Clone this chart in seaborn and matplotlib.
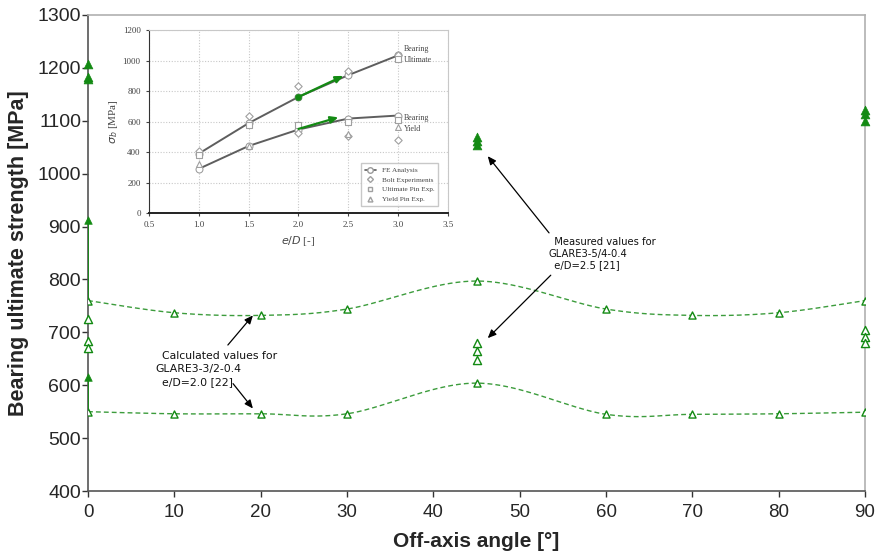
#!/usr/bin/env python3
"""Bearing ultimate strength vs off-axis angle, with e/D inset."""

import numpy as np
import pandas as pd
import matplotlib
matplotlib.use("Agg")
import matplotlib.pyplot as plt
import seaborn as sns
from matplotlib.lines import Line2D

# calculated values, GLARE3-3/2-0.4, e/D=2.0
angles_calc = [0, 10, 20, 30, 45, 60, 70, 80, 90]
calc_ultimate = [760, 737, 732, 744, 797, 744, 732, 737, 760]
calc_yield = [550, 546, 546, 546, 604, 545, 545, 546, 549]

# measured values, GLARE3-5/4-0.4, e/D=2.5
meas_ult_angle = [0, 0, 0, 45, 45, 45, 90, 90, 90]
meas_ult = [1207, 1183, 1178, 1069, 1062, 1054, 1120, 1113, 1100]
meas_yld_angle = [0, 0, 0, 45, 45, 45, 90, 90, 90]
meas_yld = [725, 683, 670, 680, 664, 647, 705, 692, 680]

# e/D correction at 0 deg (calculated -> raised)
shift_angle = [0, 0]
shift_from = [760, 550]
shift_to = [913, 615]

x_ticks = list(range(0, 91, 10))
y_ticks = list(range(400, 1301, 100))

# inset: bearing strength vs e/D
ed = [1.0, 1.5, 2.0, 2.5, 3.0]
fe_ult = [390, 590, 762, 905, 1035]
fe_yld = [290, 440, 548, 620, 640]
bolt_ed = [1.0, 1.5, 2.0, 2.5, 3.0, 2.0, 2.5, 3.0]
bolt = [407, 640, 835, 935, 1040, 522, 505, 482]
upin_ed = [1.0, 1.5, 2.0, 2.5, 3.0, 3.0]
upin = [378, 578, 578, 600, 1008, 610]
ypin_ed = [1.0, 1.5, 2.5, 3.0]
ypin = [322, 440, 520, 565]
arrow_ed = [(2.0, 2.45), (2.0, 2.4)]
arrow_sb = [(762, 900), (552, 628)]

GREEN = "#138a13"
DASH = "#3c9c3c"


def smooth(x, y, n=40):
    """Catmull-Rom curve through the points (like Excel smoothed lines)."""
    pts = np.column_stack([x, y]).astype(float)
    p = np.vstack([pts[0], pts, pts[-1]])
    t = np.linspace(0, 1, n)[:, None]
    out = []
    for i in range(1, len(p) - 2):
        p0, p1, p2, p3 = p[i - 1], p[i], p[i + 1], p[i + 2]
        seg = 0.5 * (2 * p1 + (-p0 + p2) * t
                     + (2 * p0 - 5 * p1 + 4 * p2 - p3) * t ** 2
                     + (-p0 + 3 * p1 - 3 * p2 + p3) * t ** 3)
        out.append(seg)
    return np.vstack(out)


sns.set_style("white")
plt.rcParams["font.family"] = ["Liberation Sans", "DejaVu Sans"]

fig = plt.figure(figsize=(8.8, 5.54), dpi=100)
ax = fig.add_axes([0.1, 0.1137, 0.883, 0.8593])

# smoothed dashed calculated curves
for vals in (calc_ultimate, calc_yield):
    curve = smooth(angles_calc, vals)
    df = pd.DataFrame({"angle": curve[:, 0], "sb": curve[:, 1]})
    sns.lineplot(data=df, x="angle", y="sb", ax=ax, sort=False, estimator=None,
                 color=DASH, lw=1.0, linestyle=(0, (3.5, 2.2)), zorder=2)

calc_df = pd.DataFrame({"angle": angles_calc * 2, "sb": calc_ultimate + calc_yield})
sns.scatterplot(data=calc_df, x="angle", y="sb", ax=ax, marker="^", s=26,
                facecolor="white", edgecolor=GREEN, linewidth=1.0, zorder=4)

# raised values at 0 deg
ax.vlines(shift_angle, shift_from, shift_to, color=GREEN, lw=1.3, zorder=3)
sns.scatterplot(x=shift_angle, y=shift_to, ax=ax, marker="^", s=30,
                color=GREEN, edgecolor=GREEN, zorder=4, clip_on=False)

sns.scatterplot(x=meas_yld_angle, y=meas_yld, ax=ax, marker="^", s=34,
                facecolor="white", edgecolor=GREEN, linewidth=1.0, zorder=4, clip_on=False)
sns.scatterplot(x=meas_ult_angle, y=meas_ult, ax=ax, marker="^", s=40,
                color=GREEN, edgecolor=GREEN, zorder=4, clip_on=False)

ax.set_xlim(0, 90)
ax.set_ylim(400, 1300)
ax.set_xticks(x_ticks)
ax.set_yticks(y_ticks)
ax.tick_params(axis="both", direction="out", length=4, width=1, color="#333333",
               bottom=True, left=True)
ax.tick_params(axis="x", labelsize=13.5, pad=5)
ax.tick_params(axis="y", labelsize=14, pad=1)
for side in ("left", "bottom"):
    ax.spines[side].set_color("#555555")
    ax.spines[side].set_linewidth(1.2)
for side in ("right", "top"):
    ax.spines[side].set_color("#b0b0b0")
    ax.spines[side].set_linewidth(1.2)
ax.set_xlabel("Off-axis angle [°]", fontsize=15, fontweight="bold", labelpad=8)
ax.set_ylabel("Bearing ultimate strength [MPa]", fontsize=15.5, fontweight="bold", labelpad=6)

arrow = dict(arrowstyle="-|>,head_length=0.5,head_width=0.22", color="black", lw=0.9,
             shrinkA=0, shrinkB=0)
ax.text(7.8, 665, "  Calculated values for\nGLARE3-3/2-0.4\n  e/D=2.0 [22]",
        fontsize=7.8, va="top", ha="left", linespacing=1.38,
        family=["DejaVu Sans"], color="#111111")
ax.annotate("", xy=(19.1, 732), xytext=(16.2, 676), arrowprops=arrow)
ax.annotate("", xy=(19.1, 556), xytext=(16.8, 603), arrowprops=arrow)

ax.text(53.3, 880, "  Measured values for\nGLARE3-5/4-0.4\n  e/D=2.5 [21]",
        fontsize=7.2, va="top", ha="left", linespacing=1.2,
        family=["DejaVu Sans"], color="#111111")
ax.annotate("", xy=(46.3, 1033), xytext=(53.4, 888), arrowprops=arrow)
ax.annotate("", xy=(46.3, 689), xytext=(53.6, 808), arrowprops=arrow)

# ---- inset ----
ins = fig.add_axes([0.1693, 0.6155, 0.3398, 0.330])
ins.set_facecolor("white")
serif = ["Liberation Serif", "DejaVu Serif"]
grey = "#5e5e5e"
for vals in (fe_ult, fe_yld):
    sns.lineplot(x=ed, y=vals, ax=ins, color=grey, lw=1.4, marker="o", markersize=5,
                 markerfacecolor="white", markeredgecolor="#9a9a9a", zorder=3)
sns.scatterplot(x=bolt_ed, y=bolt, ax=ins, marker="D", s=14, facecolor="white",
                edgecolor="#a0a0a0", linewidth=0.8, zorder=4)
sns.scatterplot(x=upin_ed, y=upin, ax=ins, marker="s", s=16, facecolor="white",
                edgecolor="#a0a0a0", linewidth=0.8, zorder=4)
sns.scatterplot(x=ypin_ed, y=ypin, ax=ins, marker="^", s=18, facecolor="white",
                edgecolor="#a0a0a0", linewidth=0.8, zorder=4)
for (x0, x1), (y0, y1) in zip(arrow_ed, arrow_sb):
    ins.annotate("", xy=(x1, y1), xytext=(x0, y0),
                 arrowprops=dict(arrowstyle="-|>,head_length=0.45,head_width=0.2",
                                 color=GREEN, lw=1.6, shrinkA=0, shrinkB=0), zorder=5)
sns.scatterplot(x=[arrow_ed[0][0]], y=[arrow_sb[0][0]], ax=ins, s=22, color=GREEN,
                edgecolor=GREEN, zorder=6)

ins.set_xlim(0.5, 3.5)
ins.set_ylim(0, 1200)
ins.set_xticks([0.5, 1.0, 1.5, 2.0, 2.5, 3.0, 3.5])
ins.set_xticklabels(["0.5", "1.0", "1.5", "2.0", "2.5", "3.0", "3.5"])
ins.set_yticks(range(0, 1201, 200))
ins.grid(True, color="#c8c8c8", linestyle=(0, (1, 1.5)), lw=0.8)
ins.tick_params(axis="both", labelsize=6.5, length=2, pad=4, colors="#444444",
                bottom=True, left=True)
for lab in ins.get_xticklabels() + ins.get_yticklabels():
    lab.set_family(serif)
ins.spines["left"].set_color("#333333")
ins.spines["bottom"].set_color("#222222")
ins.spines["bottom"].set_linewidth(1.4)
for side in ("right", "top"):
    ins.spines[side].set_color("#c8c8c8")
    ins.spines[side].set_linewidth(0.8)
ins.set_xlabel("$e/D$ [-]", fontsize=8, family=serif, color="#444444", labelpad=3)
ins.set_ylabel(r"$\sigma_b$ [MPa]", fontsize=8, family=serif, color="#444444", labelpad=2)
ins.text(3.06, 1040, "Bearing\nUltimate", fontsize=5.8, family=serif, color="#444444",
         va="center", linespacing=1.5)
ins.text(3.06, 590, "Bearing\nYield", fontsize=5.8, family=serif, color="#444444",
         va="center", linespacing=1.5)
handles = [
    Line2D([], [], color=grey, marker="o", markersize=4, markerfacecolor="white",
           markeredgecolor="#9a9a9a", lw=1.2),
    Line2D([], [], color="#a0a0a0", marker="D", markersize=3, markerfacecolor="white", lw=0),
    Line2D([], [], color="#a0a0a0", marker="s", markersize=3.5, markerfacecolor="white", lw=0),
    Line2D([], [], color="#a0a0a0", marker="^", markersize=3.5, markerfacecolor="white", lw=0),
]
leg = ins.legend(handles, ["FE Analysis", "Bolt Experiments", "Ultimate Pin Exp.", "Yield Pin Exp."],
                 loc="lower right", prop={"family": serif, "size": 5.2}, frameon=True,
                 fancybox=False, edgecolor="#bbbbbb", handlelength=1.6, borderpad=0.5,
                 labelspacing=0.5, bbox_to_anchor=(0.98, 0.02))
for t in leg.get_texts():
    t.set_color("#444444")

fig.savefig("out.png", dpi=100)
